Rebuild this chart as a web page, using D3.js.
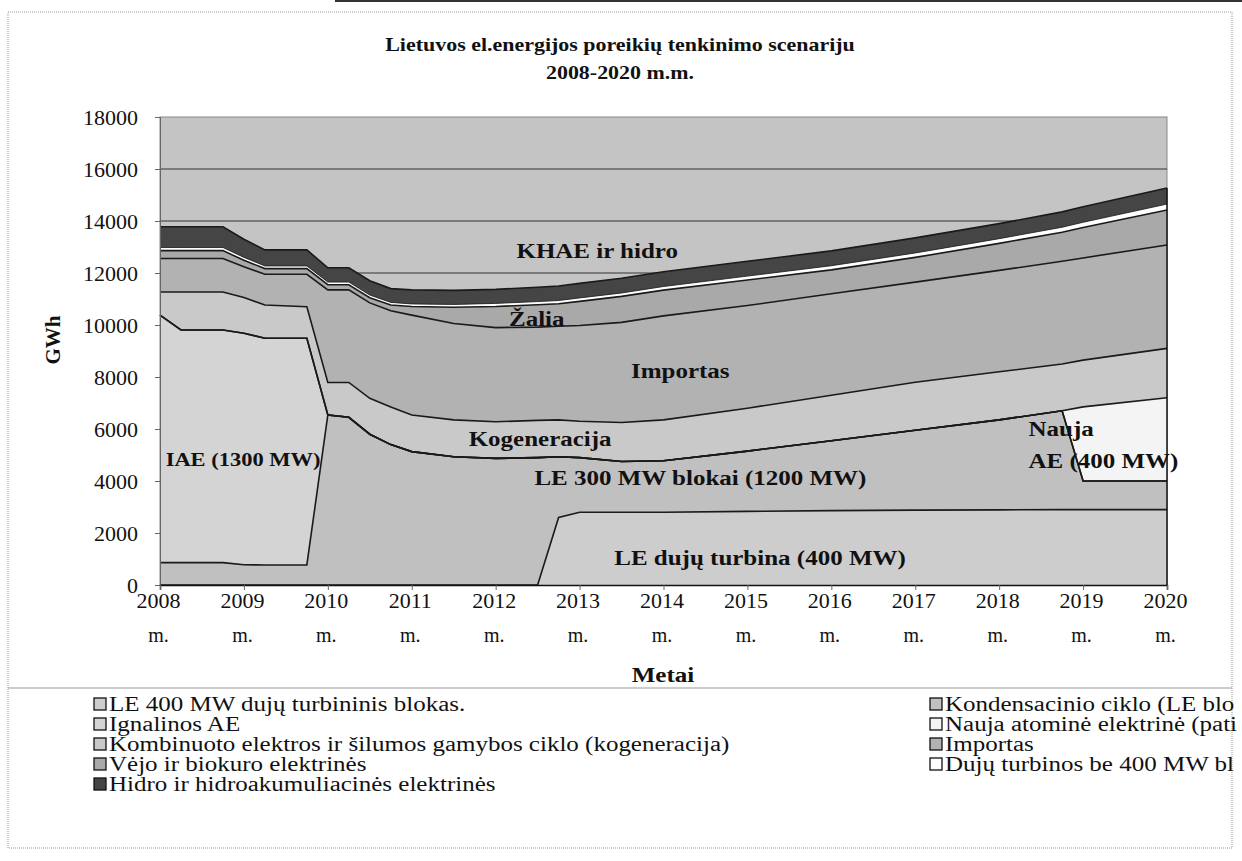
<!DOCTYPE html>
<html>
<head>
<meta charset="utf-8">
<script src="https://cdn.jsdelivr.net/npm/d3@7"></script>
<style>
body{margin:0;background:#fff;}
svg text{font-family:"Liberation Serif","Times New Roman",serif;fill:#111;}
</style>
</head>
<body>
<div class="container"></div>
<script>
// time points (years, quarterly breakpoints where the curves bend)
var years=[2008,2008.25,2008.75,2009,2009.25,2009.75,2010,2010.25,2010.5,2010.75,2011,2011.5,2012,2012.5,2012.75,2013,2013.5,2014,2015,2016,2017,2018,2018.75,2019,2020];
var tickYears=[2008,2009,2010,2011,2012,2013,2014,2015,2016,2017,2018,2019,2020];
var yTicks=[0,2000,4000,6000,8000,10000,12000,14000,16000,18000];

// GWh per source, bottom of the stack first
var gasLE400=[0,0,0,0,0,0,0,0,0,0,0,0,0,0,2600,2800,2800,2800,2830,2860,2880,2890,2900,2900,2900];
var kondensacinio=[860,860,860,780,770,770,6540,6450,5800,5400,5130,4930,4870,4900,2330,2100,1950,1980,2320,2690,3070,3460,3800,1100,1100];
var ignalina=[9520,8950,8950,8900,8720,8720,0,0,0,0,0,0,0,0,0,0,0,0,0,0,0,0,0,0,0];
var naujaAE=[0,0,0,0,0,0,0,0,0,0,0,0,0,0,0,0,0,0,0,0,0,0,0,2850,3200];
var kogeneracija=[890,1460,1460,1380,1280,1210,1250,1340,1380,1450,1410,1420,1410,1430,1420,1400,1500,1570,1650,1750,1850,1850,1800,1800,1900];
var importas=[1290,1290,1290,1180,1180,1250,3560,3560,3670,3700,3840,3710,3620,3590,3600,3680,3850,4000,3950,3900,3850,3900,3950,3930,3980];
var vejoBio=[300,300,300,250,220,220,200,200,200,220,330,620,810,860,870,930,1000,990,980,920,950,1040,1120,1170,1340];
var dujuBe400=[120,120,120,110,100,100,100,100,100,100,100,110,120,120,120,130,130,140,150,160,170,180,190,200,230];
var hidro=[800,800,800,700,620,620,550,550,550,530,540,540,540,550,560,560,570,570,570,570,580,580,590,600,620];

var keys=["gas","kond","iae","nauja","kogen","imp","vejo","duju","hidro"];
// legend texts as far as they are visible in the picture
var names={
    gas:"LE 400 MW dujų turbininis blokas.",
    kond:"Kondensacinio ciklo (LE blo",
    iae:"Ignalinos AE",
    nauja:"Nauja atominė elektrinė (pati",
    kogen:"Kombinuoto elektros ir šilumos gamybos ciklo (kogeneracija)",
    imp:"Importas",
    vejo:"Vėjo ir biokuro elektrinės",
    duju:"Dujų turbinos be 400 MW bl",
    hidro:"Hidro ir hidroakumuliacinės elektrinės"
};
var fills={gas:"#cdcdcd",kond:"#c0c0c0",iae:"#d4d4d4",nauja:"#f4f4f4",kogen:"#c9c9c9",imp:"#b2b2b2",vejo:"#a9a9a9",duju:"#ffffff",hidro:"#454545"};

var rows=[];
for(i=0;i<years.length;i++){
    rows.push({t:years[i],gas:gasLE400[i],kond:kondensacinio[i],iae:ignalina[i],nauja:naujaAE[i],kogen:kogeneracija[i],imp:importas[i],vejo:vejoBio[i],duju:dujuBe400[i],hidro:hidro[i]});
}

var width=1242, height=861;
var plot={left:160,right:1167,top:117,bottom:585};
var sx=1.25; // the scanned text is wider than it is tall

var svg=d3.select(".container").append("svg").attr("width",width).attr("height",height);

// put a text at (cx,cy), stretched sideways like the scan
function wideText(g,cx,cy,str,size,bold,anchor,k){
    return g.append("text")
        .attr("transform","translate("+cx+","+cy+") scale("+(k||sx)+",1)")
        .attr("text-anchor",anchor||"middle")
        .attr("font-size",size+"px")
        .attr("font-weight",bold?"bold":"normal")
        .text(str);
}

// scan frame
svg.append("line").attr("x1",335).attr("x2",1242).attr("y1",1).attr("y2",1).attr("stroke","#333").attr("stroke-width",2);
svg.append("rect").attr("x",8).attr("y",12).attr("width",1224).attr("height",676)
    .attr("fill","none").attr("stroke","#999").attr("stroke-dasharray","1,1");
svg.append("rect").attr("x",8).attr("y",688).attr("width",1224).attr("height",160)
    .attr("fill","none").attr("stroke","#999").attr("stroke-dasharray","1,1");

var x=d3.scaleLinear().domain([2008,2020]).range([plot.left,plot.right]);
var y=d3.scaleLinear().domain([0,18000]).range([plot.bottom,plot.top]);

// plot background
svg.append("rect").attr("x",plot.left).attr("y",plot.top).attr("width",plot.right-plot.left).attr("height",plot.bottom-plot.top)
    .attr("fill","#c4c4c4").attr("stroke","#888").attr("stroke-width",1);

// gridlines
svg.append("g").selectAll("line").data(yTicks.slice(1,-1)).enter().append("line")
    .attr("x1",plot.left).attr("x2",plot.right)
    .attr("y1",function(d){return y(d);}).attr("y2",function(d){return y(d);})
    .attr("stroke","#333").attr("stroke-width",1);

var stack=d3.stack().keys(keys);
var layers=stack(rows);

var area=d3.area()
    .x(function(d){return x(d.data.t);})
    .y0(function(d){return y(d[0]);})
    .y1(function(d){return y(d[1]);});

var topLine=d3.line()
    .x(function(d){return x(d.data.t);})
    .y(function(d){return y(d[1]);});

svg.append("g").selectAll("path").data(layers).enter().append("path")
    .attr("d",area)
    .attr("fill",function(d){return fills[d.key];})
    .attr("stroke","none");

svg.append("g").selectAll("path").data(layers).enter().append("path")
    .attr("d",topLine)
    .attr("fill","none")
    .attr("stroke","#1a1a1a")
    .attr("stroke-width",function(d){return d.key=="duju"?0.8:1.6;});

// right edge of the stack
var last=layers[layers.length-1][years.length-1][1];
svg.append("line").attr("x1",plot.right).attr("x2",plot.right).attr("y1",y(last)).attr("y2",plot.bottom).attr("stroke","#111").attr("stroke-width",1.5);

var yAxis=d3.axisLeft(y).tickValues(yTicks).tickSize(5).tickFormat(function(d){return d;});
var gy=svg.append("g").attr("transform","translate("+plot.left+",0)").call(yAxis);
gy.select(".domain").attr("stroke","#666");
gy.selectAll(".tick line").attr("stroke","#666");
gy.selectAll("text").attr("font-size","22px").attr("fill","#222").attr("x",-22);

var xAxis=d3.axisBottom(x).tickValues(tickYears).tickSize(5).tickFormat(function(d){return d;});
var gx=svg.append("g").attr("transform","translate(0,"+plot.bottom+")").call(xAxis);
gx.select(".domain").attr("stroke","#111").attr("stroke-width",1.5);
gx.selectAll(".tick line").attr("stroke","#666");
gx.selectAll(".tick text").each(function(d){
    var t=d3.select(this);
    t.text(null).attr("font-size","22px").attr("fill","#222").attr("y",0).attr("dy",null);
    t.append("tspan").attr("x",-2).attr("y",23).text(d);
    t.append("tspan").attr("x",-2).attr("y",57).attr("font-size","20px").text("m.");
});

// titles
wideText(svg,620,51,"Lietuvos el.energijos poreikių tenkinimo scenariju",18,true,"middle",1.22);
wideText(svg,620,79,"2008-2020 m.m.",18,true,"middle",1.22);
svg.append("text").attr("transform","translate(60,340) rotate(-90)").attr("text-anchor","middle")
    .attr("font-size","21px").attr("font-weight","bold").text("GWh");
wideText(svg,663,682,"Metai",20,true,"middle");

// labels inside the areas
var inLabels=[
    {t:"KHAE ir hidro",yr:2013.21,v:12577,a:"middle",s:20},
    {t:"Žalia",yr:2012.49,v:9962,a:"middle",s:20},
    {t:"Importas",yr:2014.2,v:7961,a:"middle",s:20},
    {t:"Kogeneracija",yr:2012.53,v:5346,a:"middle",s:20},
    {t:"IAE (1300 MW)",yr:2008.99,v:4577,a:"middle",s:18},
    {t:"LE 300 MW blokai (1200 MW)",yr:2014.44,v:3846,a:"middle",s:20},
    {t:"LE dujų turbina (400 MW)",yr:2015.15,v:769,a:"middle",s:20},
    {t:"Nauja",yr:2018.35,v:5731,a:"start",s:20},
    {t:"AE (400 MW)",yr:2018.35,v:4500,a:"start",s:20}
];
var lab=svg.append("g").attr("fill","#1a1a1a");
inLabels.forEach(function(d){
    wideText(lab,x(d.yr),y(d.v),d.t,d.s,true,d.a);
});

// legend
var leftCol=["gas","iae","kogen","vejo","hidro"];
var rightCol=["kond","nauja","imp","duju"];
var lg=svg.append("g");
function legendCol(list,x0){
    list.forEach(function(k,i){
        var row=lg.append("g").attr("transform","translate("+x0+","+(705+i*20)+")");
        row.append("rect").attr("x",0).attr("y",-7).attr("width",12).attr("height",12)
            .attr("fill",fills[k]).attr("stroke","#111").attr("stroke-width",1.3);
        wideText(row,15,6,names[k],20,false,"start").attr("fill","#222");
    });
}
legendCol(leftCol,94);
legendCol(rightCol,930);
</script>
</body>
</html>
